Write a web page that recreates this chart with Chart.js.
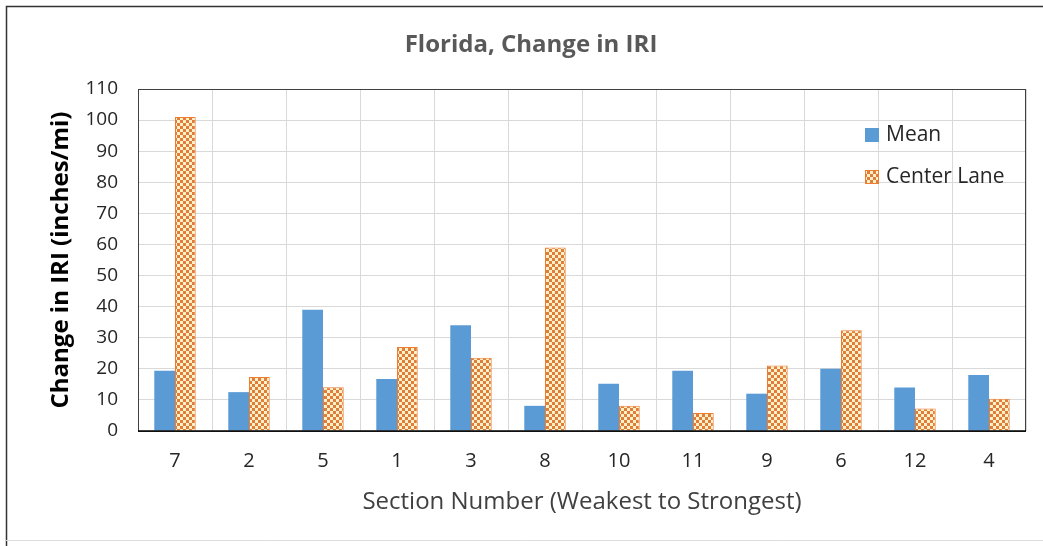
<!DOCTYPE html>
<html lang="en">
<head>
<meta charset="UTF-8">
<title>Florida, Change in IRI</title>
<script src="https://cdn.jsdelivr.net/npm/chart.js"></script>
<style>
    html, body { margin: 0; padding: 0; background: #fff; }
    canvas { display: block; }
</style>
</head>
<body>
<canvas id="chart" width="1043" height="546"></canvas>
<script>
const sections = ['7', '2', '5', '1', '3', '8', '10', '11', '9', '6', '12', '4'];
const meanValues = [19.4, 12.5, 39, 16.7, 34, 8.1, 15.2, 19.4, 12, 20, 14, 18];
const centerLaneValues = [101, 17.4, 14.1, 27, 23.6, 59, 8.1, 5.8, 21.1, 32.4, 7.2, 10.4];
const seriesNames = ['Mean', 'Center Lane'];
const yTicks = [0, 10, 20, 30, 40, 50, 60, 70, 80, 90, 100, 110];

const FONT = '"Open Sans", Lato, sans-serif';
const BLUE = '#5B9BD5';
const ORANGE = '#ED7D31';

// small checkerboard fill for the Center Lane bars
function makeChecker() {
    const c = document.createElement('canvas');
    c.width = 6; c.height = 6;
    const g = c.getContext('2d');
    g.fillStyle = '#FFF0C8';
    g.fillRect(0, 0, 6, 6);
    g.fillStyle = '#DE7E3A';
    g.fillRect(0, 0, 3, 3);
    g.fillRect(3, 3, 3, 3);
    return document.getElementById('chart').getContext('2d').createPattern(c, 'repeat');
}
const checker = makeChecker();

// white background, outer frame, title, plot border and in-plot legend
const decor = {
    id: 'decor',
    beforeDraw(chart) {
        const ctx = chart.ctx;
        ctx.save();
        ctx.fillStyle = '#fff';
        ctx.fillRect(0, 0, chart.width, chart.height);
        ctx.strokeStyle = '#333';
        ctx.lineWidth = 1.5;
        ctx.beginPath();
        ctx.moveTo(6.5, chart.height);
        ctx.lineTo(6.5, 6.5);
        ctx.lineTo(chart.width, 6.5);
        ctx.stroke();
        ctx.strokeStyle = '#ddd';
        ctx.lineWidth = 1;
        ctx.beginPath();
        ctx.moveTo(6, 540.5);
        ctx.lineTo(chart.width, 540.5);
        ctx.stroke();

        ctx.fillStyle = '#595959';
        ctx.font = 'bold 24px ' + FONT;
        ctx.textAlign = 'center';
        ctx.textBaseline = 'middle';
        ctx.fillText('Florida, Change in IRI', 531, 45);
        ctx.restore();
    },
    afterDatasetsDraw(chart) {
        const ctx = chart.ctx;
        const a = chart.chartArea;
        ctx.save();
        ctx.strokeStyle = '#404040';
        ctx.lineWidth = 1;
        ctx.strokeRect(a.left + 0.5, a.top + 0.5, a.right - a.left - 1, a.bottom - a.top);
        ctx.strokeStyle = '#000';
        ctx.lineWidth = 1.5;
        ctx.beginPath();
        ctx.moveTo(a.left, a.bottom);
        ctx.lineTo(a.right, a.bottom);
        ctx.stroke();

        const fills = [BLUE, checker];
        const rows = [135, 177];
        ctx.font = '21px ' + FONT;
        ctx.textAlign = 'left';
        ctx.textBaseline = 'middle';
        seriesNames.forEach((name, i) => {
            ctx.fillStyle = fills[i];
            ctx.fillRect(865, rows[i] - 7, 14, 14);
            if (i === 1) {
                ctx.strokeStyle = ORANGE;
                ctx.lineWidth = 1;
                ctx.strokeRect(865.5, rows[i] - 6.5, 13, 13);
            }
            ctx.fillStyle = '#262626';
            ctx.fillText(name, 886, rows[i]);
        });
        ctx.restore();
    }
};

new Chart(document.getElementById('chart'), {
    type: 'bar',
    data: {
        labels: sections,
        datasets: [
            {
                label: seriesNames[0],
                data: meanValues,
                backgroundColor: BLUE,
                borderWidth: 0
            },
            {
                label: seriesNames[1],
                data: centerLaneValues,
                backgroundColor: checker,
                borderColor: ORANGE,
                borderWidth: 1
            }
        ]
    },
    options: {
        responsive: false,
        devicePixelRatio: 1,
        animation: false,
        layout: { padding: { left: 0, right: 17, top: 89, bottom: 0 } },
        datasets: { bar: { categoryPercentage: 0.56, barPercentage: 1.0 } },
        plugins: {
            legend: { display: false },
            title: { display: false },
            tooltip: { enabled: false }
        },
        scales: {
            x: {
                grid: { color: '#D9D9D9', drawTicks: false, offset: true },
                border: { display: false },
                ticks: { color: '#262626', font: { family: FONT, size: 20 }, padding: 18, maxRotation: 0 },
                title: {
                    display: true,
                    text: 'Section Number (Weakest to Strongest)',
                    color: '#404040',
                    font: { family: FONT, size: 24 },
                    padding: { top: 0, bottom: 29 }
                },
                afterFit(scale) { scale.height = 115; }
            },
            y: {
                min: 0,
                max: 110,
                grid: { color: '#D9D9D9', drawTicks: false },
                border: { display: false },
                afterBuildTicks(scale) { scale.ticks = yTicks.map(v => ({ value: v })); },
                ticks: { color: '#262626', font: { family: FONT, size: 19 }, padding: 20 },
                title: {
                    display: true,
                    text: 'Change in IRI (inches/mi)',
                    color: '#000',
                    font: { family: FONT, size: 24, weight: 'bold' },
                    padding: { top: 47, bottom: 0 }
                },
                afterFit(scale) { scale.width = 138; }
            }
        }
    },
    plugins: [decor]
});
</script>
</body>
</html>
